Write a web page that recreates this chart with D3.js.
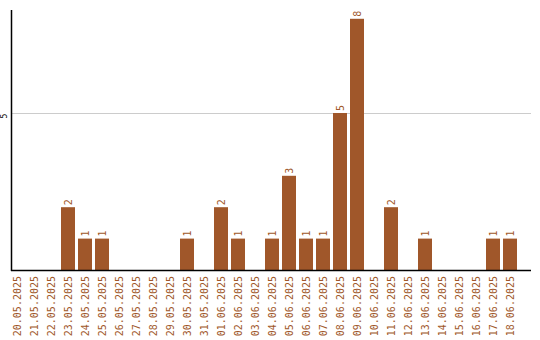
<!DOCTYPE html>
<html><head><meta charset="utf-8">
<script src="https://cdn.jsdelivr.net/npm/d3@7"></script>
<style>body{margin:0;background:#fff}svg{display:block}</style>
</head><body><svg id="c" width="540" height="340"></svg>
<script>
const dates = ["20.05.2025","21.05.2025","22.05.2025","23.05.2025","24.05.2025","25.05.2025","26.05.2025","27.05.2025","28.05.2025","29.05.2025","30.05.2025","31.05.2025","01.06.2025","02.06.2025","03.06.2025","04.06.2025","05.06.2025","06.06.2025","07.06.2025","08.06.2025","09.06.2025","10.06.2025","11.06.2025","12.06.2025","13.06.2025","14.06.2025","15.06.2025","16.06.2025","17.06.2025","18.06.2025"];
const counts = [0,0,0,2,1,1,0,0,0,0,1,0,2,1,0,1,3,1,1,5,8,0,2,0,1,0,0,0,1,1];
const yTicks = [5];

(function () {
const color = "#a0572a";
const font = "'DejaVu Sans Mono', monospace";
const svg = d3.select("#c");
const mLeft = 11, mRight = 531, mTop = 10, mBottom = 270;

const x = d3.scaleBand().domain(dates).range([8.5, 518.5]).paddingInner(3/17).paddingOuter(1.5/17);
const y = d3.scaleLinear().domain([0, 8.28]).range([mBottom, mTop]);

svg.append("g").selectAll("line").data(yTicks).join("line")
  .attr("x1", mLeft).attr("x2", mRight)
  .attr("y1", d => Math.round(y(d)) + 0.5).attr("y2", d => Math.round(y(d)) + 0.5)
  .attr("stroke", "#cccccc").attr("stroke-width", 1);

svg.append("g").selectAll("text").data(yTicks).join("text")
  .attr("transform", d => `translate(6.5,${y(d) + 3}) rotate(-90)`)
  .attr("text-anchor", "middle")
  .attr("font-family", font).attr("font-size", 8).attr("fill", "#000")
  .text(d => d);

svg.append("g").selectAll("rect").data(dates).join("rect")
  .attr("x", d => x(d)).attr("width", x.bandwidth())
  .attr("y", (d, i) => y(counts[i])).attr("height", (d, i) => mBottom - y(counts[i]))
  .attr("fill", color);

svg.append("g").selectAll("text").data(dates.filter((d, i) => counts[i] > 0)).join("text")
  .attr("transform", d => `translate(${x(d) + x.bandwidth()/2 + 3.5},${y(counts[dates.indexOf(d)]) - 2}) rotate(-90)`)
  .attr("font-family", font).attr("font-size", 10).attr("fill", color)
  .text(d => counts[dates.indexOf(d)]);

svg.append("line").attr("x1", mLeft + 0.5).attr("x2", mLeft + 0.5).attr("y1", mTop).attr("y2", mBottom + 1)
  .attr("stroke", "#000").attr("stroke-width", 1.5);
svg.append("line").attr("x1", mLeft).attr("x2", mRight).attr("y1", mBottom + 0.5).attr("y2", mBottom + 0.5)
  .attr("stroke", "#000").attr("stroke-width", 1.5);

svg.append("g").selectAll("text").data(dates).join("text")
  .attr("transform", d => `translate(${x(d) + x.bandwidth()/2 + 3.5},${mBottom + 6}) rotate(-90)`)
  .attr("text-anchor", "end")
  .attr("font-family", font).attr("font-size", 10).attr("fill", color)
  .text(d => d);
})();
</script></body></html>
